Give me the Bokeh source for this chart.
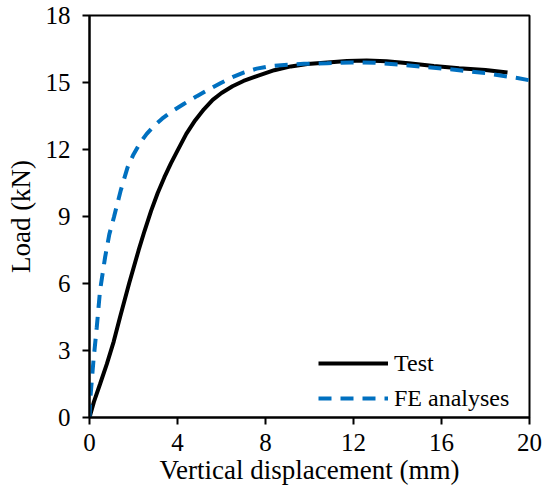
from bokeh.plotting import figure
from bokeh.models import Range1d, Legend, LegendItem, FixedTicker
from bokeh.embed import file_html
from bokeh.resources import INLINE

test_x = [0.0, 0.2, 0.48, 0.79, 1.1, 1.39, 1.8, 2.23, 2.5, 2.8, 3.1, 3.4, 3.7, 4.0, 4.4, 4.8, 5.2, 5.6, 6.0, 6.5, 7.0, 7.64, 8.4, 9.15, 9.9, 10.82, 11.7, 12.6, 13.5, 14.5, 15.65, 16.8, 18.0, 19.0]
test_y = [0.0, 0.7, 1.5, 2.4, 3.4, 4.5, 6.0, 7.48, 8.35, 9.25, 10.05, 10.75, 11.38, 11.95, 12.7, 13.3, 13.8, 14.22, 14.53, 14.83, 15.07, 15.3, 15.55, 15.72, 15.83, 15.9, 15.96, 15.98, 15.95, 15.86, 15.74, 15.64, 15.56, 15.45]

fe_x = [0.0, 0.03, 0.18, 0.33, 0.48, 0.71, 0.9, 1.11, 1.42, 1.73, 2.0, 2.3, 2.6, 2.9, 3.3, 3.7, 4.3, 4.9, 5.45, 5.97, 6.5, 7.03, 7.6, 8.24, 9.0, 9.75, 10.8, 11.9, 13.0, 14.15, 15.4, 16.6, 18.0, 19.45, 20.0]
fe_y = [0.0, 0.76, 2.55, 4.04, 5.69, 7.18, 8.2, 8.97, 10.17, 11.2, 11.78, 12.3, 12.7, 13.02, 13.38, 13.68, 14.05, 14.4, 14.7, 14.98, 15.24, 15.45, 15.62, 15.74, 15.8, 15.84, 15.86, 15.9, 15.88, 15.8, 15.68, 15.57, 15.42, 15.2, 15.1]

x_ticks = [0, 4, 8, 12, 16, 20]
y_ticks = [0, 3, 6, 9, 12, 15, 18]

FONT = "Liberation Serif"

p = figure(width=550, height=493, output_backend="svg", toolbar_location=None,
           x_range=Range1d(0, 20), y_range=Range1d(0, 18),
           min_border_left=89, min_border_right=21, min_border_top=15, min_border_bottom=76)

p.background_fill_color = "white"
p.border_fill_color = "white"
p.outline_line_color = "black"
p.outline_line_width = 2
p.grid.visible = False

for ax in (p.xaxis[0], p.yaxis[0]):
    ax.axis_line_width = 2
    ax.axis_line_color = "black"
    ax.major_tick_line_width = 2
    ax.major_tick_line_color = "black"
    ax.major_tick_in = 0
    ax.major_tick_out = 7
    ax.minor_tick_line_color = None
    ax.major_label_text_font = FONT
    ax.major_label_text_font_size = "25px"
    ax.major_label_text_color = "black"
    ax.axis_label_text_font = FONT
    ax.axis_label_text_font_size = "27px"
    ax.axis_label_text_font_style = "normal"
    ax.axis_label_text_color = "black"

p.xaxis.ticker = FixedTicker(ticks=x_ticks)
p.yaxis.ticker = FixedTicker(ticks=y_ticks)
p.xaxis.axis_label = "Vertical displacement (mm)"
p.yaxis.axis_label = "Load (kN)"
p.xaxis.major_label_standoff = 9
p.yaxis.major_label_standoff = 12
p.xaxis.axis_label_standoff = 1
p.yaxis.axis_label_standoff = 7

r_test = p.line(test_x, test_y, line_color="black", line_width=4)
r_fe = p.line(fe_x, fe_y, line_color="#0070C0", line_width=4, line_dash="13 9")

legend = Legend(items=[LegendItem(label="Test", renderers=[r_test]),
                       LegendItem(label="FE analyses", renderers=[r_fe])],
                location=(229, 4))
legend.label_text_font = FONT
legend.label_text_font_size = "24px"
legend.label_text_color = "black"
legend.glyph_width = 70
legend.glyph_height = 30
legend.label_standoff = 6
legend.spacing = 5
legend.padding = 2
legend.margin = 0
legend.border_line_color = None
legend.background_fill_color = "white"
legend.background_fill_alpha = 1.0
p.add_layout(legend)

open("out.html", "w").write(file_html(p, INLINE))
